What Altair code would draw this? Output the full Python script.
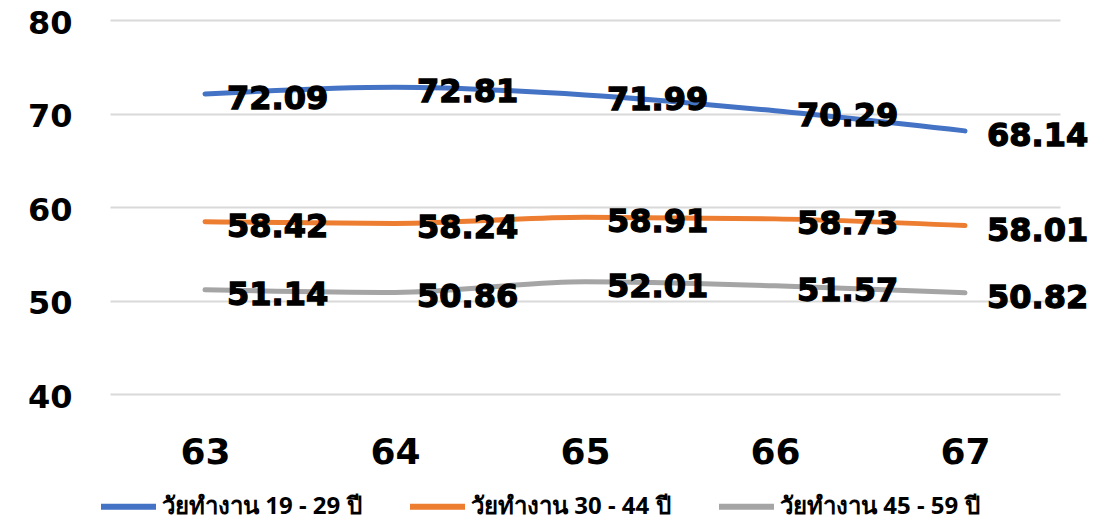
import altair as alt
import pandas as pd

years = ["63", "64", "65", "66", "67"]
series = ["วัยทำงาน 19 - 29 ปี", "วัยทำงาน 30 - 44 ปี", "วัยทำงาน 45 - 59 ปี"]
v_19_29 = [72.09, 72.81, 71.99, 70.29, 68.14]
v_30_44 = [58.42, 58.24, 58.91, 58.73, 58.01]
v_45_59 = [51.14, 50.86, 52.01, 51.57, 50.82]
colors = ["#4472C4", "#ED7D31", "#A5A5A5"]

rows = []
for s, vals in zip(series, [v_19_29, v_30_44, v_45_59]):
    for y, v in zip(years, vals):
        rows.append({"year": y, "series": s, "value": v})
df = pd.DataFrame(rows)

x = alt.X("year:N", scale=alt.Scale(type="point", padding=0.5), sort=years,
          axis=alt.Axis(title=None, labelAngle=0, labelFontSize=36, labelFont="DejaVu Sans",
                        labelFontWeight="bold", labelColor="#000000", labelPadding=58,
                        labelBaseline="middle", ticks=False, domain=False, grid=False))
y = alt.Y("value:Q", scale=alt.Scale(domain=[40, 80], nice=False, zero=False),
          axis=alt.Axis(title=None, values=[40, 50, 60, 70, 80], labelFontSize=32,
                        labelFont="DejaVu Sans", labelFontWeight="bold", labelColor="#000000",
                        labelPadding=38, labelOffset=3, ticks=False, domain=False, grid=True,
                        gridColor="#D9D9D9", gridWidth=2))
color = alt.Color("series:N", sort=series,
                  scale=alt.Scale(domain=series, range=colors),
                  legend=alt.Legend(title=None, orient="none", direction="horizontal",
                                    legendX=-12, legendY=456, symbolType="stroke",
                                    symbolSize=3025, symbolStrokeWidth=6,
                                    labelFontSize=24, labelFont="Noto Sans",
                                    labelFontWeight="bold", labelColor="#000000",
                                    labelLimit=400, labelOffset=3, columnPadding=36,
                                    padding=0))

lines = alt.Chart(df).mark_line(strokeWidth=5, interpolate="monotone", strokeCap="round").encode(
    x=x, y=y, color=color)

labels = alt.Chart(df).mark_text(align="left", baseline="middle", dx=22, dy=5,
                                 fontSize=32, font="DejaVu Sans", fontWeight="bold",
                                 color="#000000", stroke="#000000", strokeWidth=1.3).encode(
    x=alt.X("year:N", sort=years, scale=alt.Scale(type="point", padding=0.5)),
    y=alt.Y("value:Q"),
    text=alt.Text("value:Q", format=".2f"))

chart = (lines + labels).properties(
    width=950, height=374,
    autosize=alt.AutoSizeParams(type="none"),
    padding={"left": 102, "top": 12, "right": 41, "bottom": 122},
).configure_view(stroke=None)

chart.save("out.html", embed_options={"renderer": "svg", "actions": False})
